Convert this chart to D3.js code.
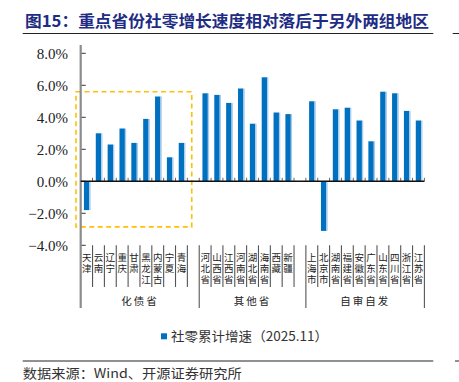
<!DOCTYPE html>
<html><head><meta charset="utf-8">
<script src="https://cdn.jsdelivr.net/npm/d3@7"></script>
<style>html,body{margin:0;padding:0;background:#fff;overflow:hidden}
.vt{writing-mode:vertical-rl;text-orientation:upright;}</style>
</head><body>
<svg id="c" width="459" height="382"></svg>
<script>
// ---- data ----
const groupNames = ["化债省", "其他省", "自审自发"];
const categories1 = ["天津", "云南", "辽宁", "重庆", "甘肃", "黑龙江", "内蒙古", "宁夏", "青海"];
const values1 = [-1.8, 3.0, 2.3, 3.3, 2.4, 3.9, 5.3, 1.5, 2.4];
const categories2 = ["河北省", "山西省", "江西省", "河南省", "湖北省", "海南省", "西藏", "新疆"];
const values2 = [5.5, 5.4, 4.9, 5.8, 3.6, 6.5, 4.3, 4.2];
const categories3 = ["上海市", "北京市", "湖南省", "福建省", "安徽省", "广东省", "山东省", "四川省", "浙江省", "江苏省"];
const values3 = [5.0, -3.1, 4.5, 4.6, 3.8, 2.5, 5.6, 5.5, 4.4, 3.8];
const yTicks = [-4, -2, 0, 2, 4, 6, 8];
const seriesName = "社零累计增速（2025.11）";
const titleText = "图15：重点省份社零增长速度相对落后于另外两组地区";
const sourceText = "数据来源：Wind、开源证券研究所";
const boxRange = [5.6, -2.85];

(function () {
// ---- build slots ----
const groups = [
  {name: groupNames[0], cats: categories1, vals: values1, gap: true},
  {name: groupNames[1], cats: categories2, vals: values2, gap: true},
  {name: groupNames[2], cats: categories3, vals: values3, gap: false}
];
const slots = [];
const bars = [];
groups.forEach((g, gi) => {
  g.slots = [];
  g.cats.forEach((c, i) => { const k = gi + ":" + c; slots.push(k); g.slots.push(k); bars.push({key: k, name: c, v: g.vals[i]}); });
  if (g.gap) { const k = "gap" + gi; slots.push(k); g.slots.push(k); }
});

const svg = d3.select("#c");
const pl = 80.7, pr = 424.4, pt = 53.3, pb = 245.3;
const x = d3.scaleBand().domain(slots).range([pl, pr]).padding(0);
const y = d3.scaleLinear().domain([-4, 8]).range([pb, pt]);
const bw = x.bandwidth();

// title
svg.append("text").attr("x", 25).attr("y", 27).attr("font-family", "Noto Sans CJK SC")
  .attr("font-weight", "bold").attr("font-size", 16).attr("fill", "#1E2C84")
  .attr("textLength", 404).attr("lengthAdjust", "spacingAndGlyphs").text(titleText);
svg.append("line").attr("x1", 22.7).attr("x2", 433.3).attr("y1", 33.5).attr("y2", 33.5).attr("stroke", "#222").attr("stroke-width", 1);
svg.append("line").attr("x1", 452.7).attr("x2", 459).attr("y1", 33.5).attr("y2", 33.5).attr("stroke", "#222");

// dashed highlight box
const g1 = groups[0];
const bx0 = x(g1.slots[0]) - 4.7;
const bx1 = x(g1.slots[g1.cats.length - 1]) + bw + 4.4;
svg.append("rect")
  .attr("x", bx0).attr("y", y(boxRange[0]))
  .attr("width", bx1 - bx0)
  .attr("height", y(boxRange[1]) - y(boxRange[0]))
  .attr("fill", "none").attr("stroke", "#FFC000").attr("stroke-width", 1.6).attr("stroke-dasharray", "5,3.5");

// y axis
svg.append("line").attr("x1", pl).attr("x2", pl).attr("y1", 45).attr("y2", 308)
  .attr("stroke", "#8c8c8c").attr("stroke-width", 2.2);
const yAxis = svg.append("g");
yTicks.forEach(t => {
  yAxis.append("line").attr("x1", pl + 1).attr("x2", pl + 5).attr("y1", y(t)).attr("y2", y(t)).attr("stroke", "#333").attr("stroke-width", 1);
  yAxis.append("text").attr("x", 68).attr("y", y(t)).attr("dy", "0.35em").attr("text-anchor", "end")
    .attr("font-family", "Liberation Serif").attr("font-size", 15).attr("fill", "#222")
    .text(d3.format(".1f")(t) + "%");
});

// bars
const bw2 = 5.4;
svg.append("g").selectAll("rect").data(bars).join("rect")
  .attr("x", d => x(d.key) + (bw - bw2) / 2)
  .attr("y", d => y(Math.max(0, d.v)))
  .attr("width", bw2)
  .attr("height", d => Math.abs(y(d.v) - y(0)))
  .attr("fill", "#0070C0");
svg.append("g").selectAll("rect").data(bars).join("rect")
  .attr("x", d => x(d.key) + (bw + bw2) / 2)
  .attr("y", d => y(Math.max(0, d.v)))
  .attr("width", 1.3)
  .attr("height", d => Math.abs(y(d.v) - y(0)))
  .attr("fill", "#A9CBEA");

// zero line with small ticks
slots.forEach((s, i) => {
  if (i === 0) return;
  svg.append("line").attr("x1", x(s)).attr("x2", x(s)).attr("y1", y(0) - 3.5).attr("y2", y(0))
    .attr("stroke", "#666").attr("stroke-width", 1);
});
svg.append("line").attr("x1", pr).attr("x2", pr)
  .attr("y1", y(0) - 3.5).attr("y2", y(0)).attr("stroke", "#666");
svg.append("line").attr("x1", pl).attr("x2", pr).attr("y1", y(0)).attr("y2", y(0))
  .attr("stroke", "#111").attr("stroke-width", 1.4);

// category table
const tblTop = y(-4), catBottom = 287, grpBottom = 308;
groups.forEach((g) => {
  g.slots.forEach((s, i) => {
    if (i > 0) svg.append("line").attr("x1", x(s)).attr("x2", x(s)).attr("y1", tblTop).attr("y2", catBottom)
      .attr("stroke", "#555").attr("stroke-width", 1.1);
  });
  const gEnd = x(g.slots[g.slots.length - 1]) + bw;
  svg.append("line").attr("x1", gEnd).attr("x2", gEnd).attr("y1", tblTop).attr("y2", grpBottom)
    .attr("stroke", "#555").attr("stroke-width", 1.1);
  const gStart = x(g.slots[0]);
  svg.append("text").attr("x", (gStart + gEnd) / 2).attr("y", 305).attr("text-anchor", "middle")
    .attr("font-family", "Noto Sans CJK SC").attr("font-size", 10.5).attr("fill", "#222")
    .attr("letter-spacing", 2).text(g.name);
});
svg.append("g").selectAll("text").data(bars).join("text")
  .attr("class", "vt")
  .attr("font-family", "Noto Sans CJK SC").attr("font-size", 9.5).attr("fill", "#222")
  .attr("letter-spacing", 1.5)
  .attr("x", d => x(d.key) + bw / 2).attr("y", 252.5)
  .text(d => d.name);

// legend
svg.append("rect").attr("x", 161).attr("y", 333.3).attr("width", 6).attr("height", 6).attr("fill", "#0070C0");
svg.append("text").attr("x", 171).attr("y", 341).attr("font-family", "Noto Sans CJK SC")
  .attr("font-size", 13).attr("fill", "#333").attr("textLength", 157).attr("lengthAdjust", "spacingAndGlyphs")
  .text(seriesName);

// source
svg.append("line").attr("x1", 22.7).attr("x2", 433.3).attr("y1", 361).attr("y2", 361).attr("stroke", "#222").attr("stroke-width", 1);
svg.append("text").attr("x", 22.7).attr("y", 378).attr("font-family", "Noto Sans CJK SC")
  .attr("font-size", 13).attr("fill", "#333").attr("textLength", 219).attr("lengthAdjust", "spacingAndGlyphs")
  .text(sourceText);
svg.append("line").attr("x1", 455).attr("x2", 459).attr("y1", 361).attr("y2", 361).attr("stroke", "#222");
})();
</script>
</body></html>
